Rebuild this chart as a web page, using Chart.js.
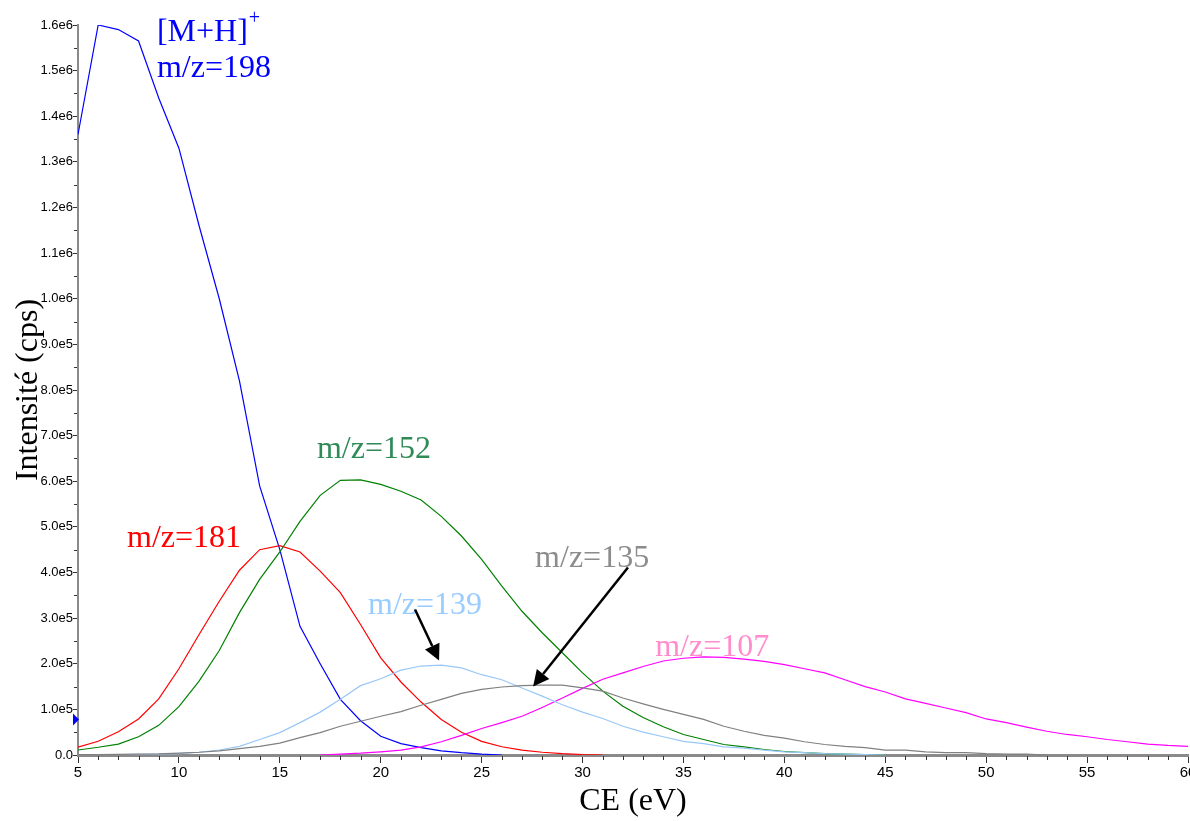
<!DOCTYPE html>
<html lang="fr">
<head>
    <meta charset="UTF-8">
    <title>Intensité vs CE</title>
    <script src="https://cdn.jsdelivr.net/npm/chart.js@4.4.1/dist/chart.umd.min.js"></script>
    <style>
        html, body { margin: 0; padding: 0; background: #fff; overflow: hidden; }
        #wrap { width: 1230px; height: 821px; }
    </style>
</head>
<body>
    <div id="wrap"><canvas id="chart" width="1230" height="821"></canvas></div>
    <script>
        // collision energy (eV)
        const ce = [5, 6, 7, 8, 9, 10, 11, 12, 13, 14, 15, 16, 17, 18, 19, 20, 21, 22, 23, 24, 25, 26, 27, 28, 29, 30,
                    31, 32, 33, 34, 35, 36, 37, 38, 39, 40, 41, 42, 43, 44, 45, 46, 47, 48, 49, 50, 51, 52, 53, 54, 55,
                    56, 57, 58, 59, 60];

        // intensities (cps), starting at CE = 5
        const mz198 = [1.36e6, 1.6e6, 1.59e6, 1.565e6, 1.44e6, 1.33e6, 1.16e6, 1.0e6, 8.2e5, 5.9e5, 4.5e5, 2.82e5,
                       2.0e5, 1.22e5, 7.5e4, 4.1e4, 2.5e4, 1.6e4, 9e3, 5e3, 2e3, 0];
        const mz181 = [1.7e4, 3.0e4, 5.1e4, 7.9e4, 1.23e5, 1.89e5, 2.64e5, 3.37e5, 4.05e5, 4.5e5, 4.59e5, 4.45e5,
                       4.03e5, 3.56e5, 2.86e5, 2.13e5, 1.6e5, 1.16e5, 7.8e4, 5.0e4, 3.0e4, 1.8e4, 1.05e4, 6e3, 3e3, 1e3, 0];
        const mz152 = [1.1e4, 1.7e4, 2.4e4, 4.0e4, 6.5e4, 1.06e5, 1.62e5, 2.29e5, 3.12e5, 3.85e5, 4.45e5, 5.12e5,
                       5.69e5, 6.02e5, 6.03e5, 5.93e5, 5.78e5, 5.59e5, 5.23e5, 4.8e5, 4.29e5, 3.7e5, 3.15e5, 2.68e5,
                       2.24e5, 1.8e5, 1.4e5, 1.07e5, 8.2e4, 6.2e4, 4.5e4, 3.4e4, 2.3e4, 1.8e4, 1.2e4, 7.7e3, 5e3, 3e3,
                       2e3, 1e3, 0];
        const mz139 = [1e3, 1e3, 1e3, 1.5e3, 2e3, 3e3, 6e3, 1.1e4, 1.9e4, 3.4e4, 4.9e4, 7.1e4, 9.4e4, 1.22e5, 1.52e5,
                       1.67e5, 1.86e5, 1.95e5, 1.97e5, 1.91e5, 1.76e5, 1.65e5, 1.47e5, 1.29e5, 1.1e5, 9.4e4, 8e4, 6.3e4,
                       5e4, 4e4, 3e4, 2.5e4, 1.8e4, 1.5e4, 1.05e4, 7e3, 5e3, 3e3, 2e3, 1e3, 0];
        const mz135 = [1e3, 1e3, 1.5e3, 2e3, 2.5e3, 4e3, 6e3, 9e3, 1.4e4, 1.9e4, 2.6e4, 3.8e4, 4.9e4, 6.3e4, 7.4e4,
                       8.5e4, 9.5e4, 1.09e5, 1.22e5, 1.35e5, 1.44e5, 1.49e5, 1.52e5, 1.53e5, 1.53e5, 1.47e5, 1.4e5,
                       1.25e5, 1.12e5, 1.0e5, 8.9e4, 7.8e4, 6.3e4, 5.2e4, 4.3e4, 3.7e4, 2.9e4, 2.3e4, 1.9e4, 1.6e4,
                       1.05e4, 1.05e4, 7e3, 5e3, 5e3, 3e3, 2e3, 2e3, 0];
        const mz107 = [null, null, null, null, null, null, null, null, null, null, null, null,
                       0, 2e3, 4e3, 7e3, 1.05e4, 1.8e4, 2.9e4, 4.3e4, 5.8e4, 7.1e4, 8.5e4, 1.04e5, 1.25e5, 1.46e5,
                       1.66e5, 1.8e5, 1.94e5, 2.06e5, 2.12e5, 2.15e5, 2.14e5, 2.1e5, 2.05e5, 1.98e5, 1.89e5, 1.8e5,
                       1.65e5, 1.5e5, 1.38e5, 1.23e5, 1.13e5, 1.03e5, 9.3e4, 7.9e4, 7.1e4, 6.1e4, 5.2e4, 4.5e4, 4.0e4,
                       3.4e4, 2.9e4, 2.4e4, 2.1e4, 1.9e4];

        // curve labels: text, colour, left x (eV), baseline y (cps)
        const labels = [
            { text: 'm/z=198', color: '#0000ff', x: 8.91, y: 1.487e6 },
            { text: 'm/z=152', color: '#2e8b57', x: 16.84, y: 6.5e5 },
            { text: 'm/z=181', color: '#ff0000', x: 7.43, y: 4.55e5 },
            { text: 'm/z=139', color: '#99ccff', x: 19.37, y: 3.08e5 },
            { text: 'm/z=135', color: '#8c8c8c', x: 27.65, y: 4.11e5 },
            { text: 'm/z=107', color: '#ff8ccc', x: 33.6, y: 2.16e5 }
        ];
        // arrows: from -> to, in data units
        const arrows = [
            { x0: 21.70, y0: 3.19e5, x1: 22.89, y1: 2.07e5 },
            { x0: 32.25, y0: 4.11e5, x1: 27.55, y1: 1.50e5 }
        ];

        function toPoints(arr) {
            const pts = [];
            arr.forEach((v, i) => { if (v !== null) pts.push({ x: ce[i], y: v }); });
            return pts;
        }

        function line(data, color) {
            return {
                data: toPoints(data),
                borderColor: color,
                borderWidth: 1.2,
                pointRadius: 0,
                tension: 0,
                fill: false
            };
        }

        function fmtY(v) {
            if (v === 0) return '0.0';
            if (v >= 1e6) return (v / 1e6).toFixed(1) + 'e6';
            return (v / 1e5).toFixed(1) + 'e5';
        }

        const extras = {
            id: 'extras',
            afterDatasetsDraw(chart) {
                const ctx = chart.ctx;
                const xs = chart.scales.x, ys = chart.scales.y;
                const bottom = ys.getPixelForValue(0);
                const left = xs.getPixelForValue(5);
                ctx.save();

                // minor ticks
                ctx.strokeStyle = '#333';
                ctx.lineWidth = 1;
                ctx.beginPath();
                for (let v = 6; v < 60; v++) {
                    if (v % 5 === 0) continue;
                    const px = Math.round(xs.getPixelForValue(v)) + 0.5;
                    ctx.moveTo(px, bottom + 1);
                    ctx.lineTo(px, bottom + 5);
                }
                for (let v = 5e4; v < 1.6e6; v += 1e5) {
                    const py = Math.round(ys.getPixelForValue(v)) + 0.5;
                    ctx.moveTo(left - 4, py);
                    ctx.lineTo(left - 1, py);
                }
                ctx.stroke();

                // small marker on the y axis
                const my = ys.getPixelForValue(7.8e4);
                ctx.fillStyle = '#0000ff';
                ctx.beginPath();
                ctx.moveTo(left - 5, my - 6);
                ctx.lineTo(left + 1, my);
                ctx.lineTo(left - 5, my + 6);
                ctx.closePath();
                ctx.fill();

                // curve labels
                ctx.font = '32px "Liberation Serif", "Times New Roman", serif';
                ctx.textBaseline = 'alphabetic';
                ctx.textAlign = 'left';
                labels.forEach(l => {
                    ctx.fillStyle = l.color;
                    ctx.fillText(l.text, xs.getPixelForValue(l.x), ys.getPixelForValue(l.y));
                });
                // [M+H]+
                const hx = xs.getPixelForValue(8.91), hy = ys.getPixelForValue(1.564e6);
                ctx.fillStyle = '#0000ff';
                ctx.fillText('[M+H]', hx, hy);
                const w = ctx.measureText('[M+H]').width;
                ctx.font = '20px "Liberation Serif", "Times New Roman", serif';
                ctx.fillText('+', hx + w + 1, hy - 17);

                // arrows
                ctx.strokeStyle = '#000';
                ctx.fillStyle = '#000';
                ctx.lineWidth = 2.5;
                arrows.forEach(a => {
                    const x0 = xs.getPixelForValue(a.x0), y0 = ys.getPixelForValue(a.y0);
                    const x1 = xs.getPixelForValue(a.x1), y1 = ys.getPixelForValue(a.y1);
                    const ang = Math.atan2(y1 - y0, x1 - x0);
                    const hl = 16, hw = 8;
                    const bx = x1 - hl * Math.cos(ang), by = y1 - hl * Math.sin(ang);
                    ctx.beginPath();
                    ctx.moveTo(x0, y0);
                    ctx.lineTo(bx, by);
                    ctx.stroke();
                    ctx.beginPath();
                    ctx.moveTo(x1, y1);
                    ctx.lineTo(bx + hw * Math.sin(ang), by - hw * Math.cos(ang));
                    ctx.lineTo(bx - hw * Math.sin(ang), by + hw * Math.cos(ang));
                    ctx.closePath();
                    ctx.fill();
                });
                ctx.restore();
            }
        };

        new Chart(document.getElementById('chart'), {
            type: 'line',
            data: {
                datasets: [
                    line(mz135, '#808080'),
                    line(mz139, '#99c8f8'),
                    line(mz107, '#ff00ff'),
                    line(mz152, '#008000'),
                    line(mz181, '#ff0000'),
                    line(mz198, '#0000ff')
                ]
            },
            options: {
                responsive: false,
                animation: false,
                layout: { padding: { left: 0, right: 42, top: 25, bottom: 0 } },
                plugins: { legend: { display: false }, tooltip: { enabled: false } },
                scales: {
                    x: {
                        type: 'linear',
                        min: 5,
                        max: 60,
                        afterFit: s => { s.height = 66; },
                        border: { color: '#8a8a8a', width: 3 },
                        grid: { drawOnChartArea: false, tickLength: 8, color: '#333' },
                        ticks: {
                            stepSize: 5,
                            padding: 1,
                            color: '#000',
                            font: { family: '"Liberation Sans", Arial, sans-serif', size: 15 }
                        },
                        title: {
                            display: true,
                            text: 'CE (eV)',
                            color: '#000',
                            padding: { top: 0, bottom: 0 },
                            font: { family: '"Liberation Serif", "Times New Roman", serif', size: 32 }
                        }
                    },
                    y: {
                        min: 0,
                        max: 1.6e6,
                        afterFit: s => { s.width = 78; },
                        border: { color: '#8a8a8a', width: 2 },
                        grid: { drawOnChartArea: false, tickLength: 5, color: '#333' },
                        ticks: {
                            stepSize: 1e5,
                            padding: 0,
                            color: '#000',
                            callback: v => fmtY(v),
                            font: { family: '"Liberation Sans", Arial, sans-serif', size: 13 }
                        },
                        title: {
                            display: true,
                            text: 'Intensité (cps)',
                            color: '#000',
                            padding: { top: 9, bottom: 0 },
                            font: { family: '"Liberation Serif", "Times New Roman", serif', size: 32 }
                        }
                    }
                }
            },
            plugins: [extras]
        });
    </script>
</body>
</html>
